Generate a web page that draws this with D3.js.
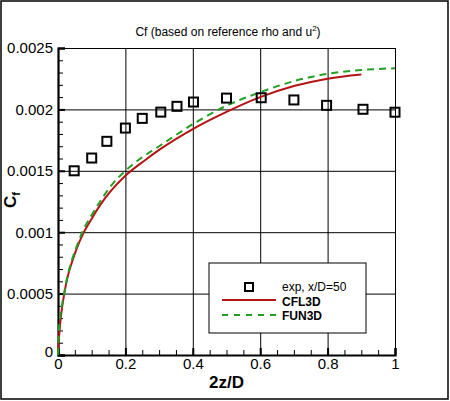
<!DOCTYPE html>
<html>
<head>
<meta charset="utf-8">
<script src="https://cdn.jsdelivr.net/npm/d3@7"></script>
<style>
    body { margin: 0; background: #fff; }
    svg { display: block; font-family: "Liberation Sans", Arial, Helvetica, sans-serif; }
    .axis path, .axis line { stroke: #000; }
    .axis text { font-size: 15px; fill: #000; }
</style>
</head>
<body>
<div id="chart"></div>
<script>

// experimental data, x/D = 50
let expX = [0.048, 0.1, 0.145, 0.2, 0.25, 0.305, 0.353, 0.402, 0.5, 0.603, 0.7, 0.797, 0.905, 1.0];
let expCf = [0.0015, 0.001604, 0.00174, 0.001848, 0.001927, 0.001978, 0.002025, 0.00206, 0.002092, 0.002095, 0.002077, 0.002033, 0.002001, 0.001977];

// CFL3D
let cfl3dX = [0, 0.002, 0.005, 0.008, 0.012, 0.018, 0.028, 0.042, 0.056, 0.075, 0.1, 0.125, 0.155, 0.2, 0.26, 0.3, 0.4, 0.5, 0.6, 0.7, 0.8, 0.9];
let cfl3dCf = [0, 0.0001, 0.00021, 0.0003, 0.000385, 0.00049, 0.00063, 0.00076, 0.00087, 0.00099, 0.00111, 0.00122, 0.00133, 0.00146, 0.00159, 0.00167, 0.00184, 0.00198, 0.0021, 0.00219, 0.00225, 0.002284];

// FUN3D
let fun3dX = [0, 0.001, 0.003, 0.007, 0.012, 0.018, 0.028, 0.041, 0.055, 0.072, 0.1, 0.125, 0.155, 0.2, 0.263, 0.3, 0.4, 0.5, 0.6, 0.7, 0.8, 0.9, 1.0];
let fun3dCf = [0, 0.0001, 0.00022, 0.00033, 0.00041, 0.0005, 0.00064, 0.00077, 0.00088, 0.001, 0.00114, 0.00125, 0.00137, 0.0015, 0.001635, 0.0017, 0.00188, 0.00203, 0.00214, 0.00223, 0.00229, 0.002321, 0.002335];

// ticks
let xTicks = [0, 0.2, 0.4, 0.6, 0.8, 1];
let xTickLabels = ["0", "0.2", "0.4", "0.6", "0.8", "1"];
let yTicks = [0, 0.0005, 0.001, 0.0015, 0.002, 0.0025];
let yTickLabels = ["0", "0.0005", "0.001", "0.0015", "0.002", "0.0025"];
let xMinor = d3.range(0, 1.0001, 0.05);
let yMinor = d3.range(0, 0.0025001, 0.0001);

let legendLabels = ["exp, x/D=50", "CFL3D", "FUN3D"];

let red = "#b41414";
let green = "#22a022";

let W = 450, H = 401;
let margin = {top: 48, right: 55, bottom: 46, left: 58};
let width = W - margin.left - margin.right;
let height = H - margin.top - margin.bottom;

let svg = d3.select("#chart").append("svg")
    .attr("width", W)
    .attr("height", H);

// outer frame
svg.append("rect")
    .attr("x", 1).attr("y", 1)
    .attr("width", W - 3).attr("height", H - 3)
    .attr("fill", "none")
    .attr("stroke", "#000")
    .attr("stroke-width", 1.5);

let g = svg.append("g")
    .attr("transform", `translate(${margin.left}, ${margin.top})`);

let x = d3.scaleLinear().domain([0, 1]).range([0, width]);
let y = d3.scaleLinear().domain([0, 0.0025]).range([height, 0]);

// grid
g.append("g")
    .attr("class", "axis grid")
    .attr("transform", `translate(0, ${height})`)
    .call(d3.axisBottom(x).tickValues(xTicks).tickSize(-height).tickFormat(""))
    .call(s => s.select(".domain").remove());
g.append("g")
    .attr("class", "axis grid")
    .call(d3.axisLeft(y).tickValues(yTicks).tickSize(-width).tickFormat(""))
    .call(s => s.select(".domain").remove());

// minor ticks
g.append("g")
    .attr("class", "axis")
    .attr("transform", `translate(0, ${height})`)
    .call(d3.axisBottom(x).tickValues(xMinor).tickSize(-5).tickFormat(""))
    .call(s => s.select(".domain").remove());
g.append("g")
    .attr("class", "axis")
    .call(d3.axisLeft(y).tickValues(yMinor).tickSize(-5).tickFormat(""))
    .call(s => s.select(".domain").remove());

// major axes
let xAxis = g.append("g")
    .attr("class", "axis")
    .attr("transform", `translate(0, ${height})`)
    .call(d3.axisBottom(x).tickValues(xTicks).tickSize(-7).tickPadding(3)
        .tickFormat((d, i) => xTickLabels[i]));
let yAxis = g.append("g")
    .attr("class", "axis")
    .call(d3.axisLeft(y).tickValues(yTicks).tickSize(-7).tickPadding(5)
        .tickFormat((d, i) => yTickLabels[i]));
xAxis.select(".domain").attr("stroke-width", 2.2);
yAxis.select(".domain").attr("stroke-width", 2.2);
xAxis.selectAll(".tick line").attr("stroke-width", 2);
yAxis.selectAll(".tick line").attr("stroke-width", 2);
yAxis.selectAll("text").filter((d, i) => i === 0).attr("dy", "0.1em");

// curves
let line = d3.line()
    .x(d => x(d[0]))
    .y(d => y(d[1]))
    .curve(d3.curveMonotoneX);

g.append("path")
    .datum(d3.zip(cfl3dX, cfl3dCf))
    .attr("fill", "none")
    .attr("stroke", red)
    .attr("stroke-width", 2)
    .attr("d", line);

g.append("path")
    .datum(d3.zip(fun3dX, fun3dCf))
    .attr("fill", "none")
    .attr("stroke", green)
    .attr("stroke-width", 2)
    .attr("stroke-dasharray", "7,5")
    .attr("d", line);

// experiment squares
g.selectAll(".exp")
    .data(d3.zip(expX, expCf))
    .enter().append("rect")
    .attr("class", "exp")
    .attr("x", d => x(d[0]) - 4.5)
    .attr("y", d => y(d[1]) - 4.5)
    .attr("width", 9)
    .attr("height", 9)
    .attr("fill", "none")
    .attr("stroke", "#000")
    .attr("stroke-width", 2);

// title
let title = svg.append("text")
    .attr("x", 228)
    .attr("y", 36)
    .attr("text-anchor", "middle")
    .attr("font-size", 12)
    .text("Cf (based on reference rho and u");
title.append("tspan").attr("font-size", 8).attr("dy", -5).text("2");
title.append("tspan").attr("dy", 5).text(")");

// axis labels
svg.append("text")
    .attr("x", margin.left + width / 2)
    .attr("y", 388)
    .attr("text-anchor", "middle")
    .attr("font-size", 17)
    .attr("font-weight", "bold")
    .text("2z/D");

let yLabel = svg.append("text")
    .attr("transform", "translate(16, 208) rotate(-90)")
    .attr("font-size", 17)
    .attr("font-weight", "bold")
    .text("C");
yLabel.append("tspan").attr("font-size", 11).attr("dy", 4).text("f");

// legend
let legend = svg.append("g").attr("transform", "translate(209, 263)");
legend.append("rect")
    .attr("width", 157)
    .attr("height", 70)
    .attr("fill", "#fff")
    .attr("stroke", "#000")
    .attr("stroke-width", 1);
legend.append("rect")
    .attr("x", 36).attr("y", 20)
    .attr("width", 8).attr("height", 8)
    .attr("fill", "none")
    .attr("stroke", "#000")
    .attr("stroke-width", 2);
legend.append("line")
    .attr("x1", 13).attr("x2", 67)
    .attr("y1", 37).attr("y2", 37)
    .attr("stroke", red).attr("stroke-width", 2);
legend.append("line")
    .attr("x1", 13).attr("x2", 67)
    .attr("y1", 52).attr("y2", 52)
    .attr("stroke", green).attr("stroke-width", 2)
    .attr("stroke-dasharray", "6,6");
legend.selectAll(".lbl")
    .data(legendLabels)
    .enter().append("text")
    .attr("class", "lbl")
    .attr("x", 73)
    .attr("y", (d, i) => 28 + i * 14.5)
    .attr("font-size", 12)
    .attr("font-weight", (d, i) => i === 0 ? "normal" : "bold")
    .text(d => d);

</script>
</body>
</html>
